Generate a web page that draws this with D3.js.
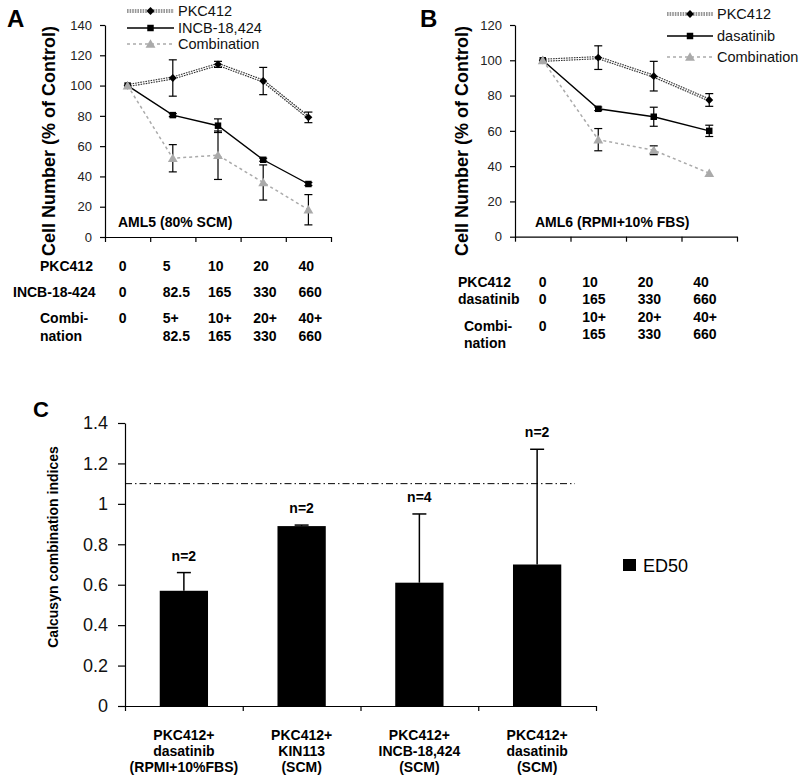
<!DOCTYPE html>
<html><head><meta charset="utf-8">
<script src="https://cdn.jsdelivr.net/npm/d3@7"></script>
<style>
body{margin:0;background:#fff;}
svg{display:block;font-family:"Liberation Sans",Arial,Helvetica,sans-serif;}
</style></head><body>
<svg id="c" width="800" height="781"></svg>
<script>
// ---------- Panel A data ----------
const catsA = ["0","5","10","20","40"];
const pkcA = [100,105,114,103,79];
const pkcAErr = [0,12,2,9,3.5];
const incbA = [100,80.5,73.5,51,35];
const incbAErr = [0,1,4.5,1,1];
const combA = [100,52,54,36,18];
const combAErr = [0,9,16,11.6,10];
const yTicksA = [0,20,40,60,80,100,120,140];
const tabA_pkc = ["0","5","10","20","40"];
const tabA_incb = ["0","82.5","165","330","660"];
const tabA_comb1 = ["0","5+","10+","20+","40+"];
const tabA_comb2 = ["","82.5","165","330","660"];
const legendA = ["PKC412","INCB-18,424","Combination"];

// ---------- Panel B data ----------
const catsB = ["0","10","20","40"];
const pkcB = [100,101.5,91,77.5];
const pkcBErr = [0,6.7,8.4,3.6];
const dasB = [100,72.5,68,60];
const dasBErr = [0,1,5.4,3.2];
const combB = [100,55,49,36];
const combBErr = [0,6.3,2.5,0];
const yTicksB = [0,20,40,60,80,100,120];
const tabB_pkc = ["0","10","20","40"];
const tabB_das = ["0","165","330","660"];
const tabB_comb1 = ["0","10+","20+","40+"];
const tabB_comb2 = ["","165","330","660"];
const legendB = ["PKC412","dasatinib","Combination"];

// ---------- Panel C data ----------
const catsC = [
  ["PKC412+","dasatinib","(RPMI+10%FBS)"],
  ["PKC412+","KIN113","(SCM)"],
  ["PKC412+","INCB-18,424","(SCM)"],
  ["PKC412+","dasatinib","(SCM)"]
];
const ed50 = [0.57,0.89,0.61,0.70];
const ed50Err = [0.09,0.005,0.34,0.57];
const nLabels = ["n=2","n=2","n=4","n=2"];
const yTicksC = [0,0.2,0.4,0.6,0.8,1,1.2,1.4];
const threshold = 1.1;

const svg = d3.select("#c");
const FONT = '"Liberation Sans",Arial,Helvetica,sans-serif';

function styleAxis(g, fs, col){
  g.selectAll("path,line").attr("stroke","#000").attr("stroke-width",1.2);
  g.selectAll("text").attr("font-size",fs).attr("fill",col).attr("font-family",FONT);
}

function linePanel(opt){
  const x = d3.scaleBand().domain(d3.range(opt.cats.length)).range(opt.xr);
  const y = d3.scaleLinear().domain(opt.ydom).range(opt.yr);
  const cx = i => x(i) + x.bandwidth()/2;
  const g = svg.append("g");
  const ya = g.append("g").attr("transform",`translate(${opt.xr[0]},0)`)
    .call(d3.axisLeft(y).tickValues(opt.yticks).tickSize(5).tickPadding(8).tickSizeOuter(0));
  styleAxis(ya, 13, "#222");
  const xb = d3.scaleLinear().domain([0,opt.cats.length]).range(opt.xr);
  const xa = g.append("g").attr("transform",`translate(0,${opt.yr[0]})`)
    .call(d3.axisBottom(xb).tickValues(d3.range(opt.cats.length+1)).tickSize(5).tickSizeOuter(0).tickFormat(""));
  styleAxis(xa, 13, "#222");

  const line = d3.line().x((d,i)=>cx(i)).y(d=>y(d));
  g.append("path").attr("d",line(opt.pkc)).attr("fill","none").attr("stroke","#333")
    .attr("stroke-width",3.2).attr("stroke-dasharray","1.6,1");
  g.append("path").attr("d",line(opt.pkc)).attr("fill","none").attr("stroke","#fff")
    .attr("stroke-width",1);
  g.append("path").attr("d",line(opt.drug)).attr("fill","none").attr("stroke","#000").attr("stroke-width",1.4);
  g.append("path").attr("d",line(opt.comb)).attr("fill","none").attr("stroke","#aaa")
    .attr("stroke-width",1.5).attr("stroke-dasharray","3,3");

  function errBars(vals, errs){
    vals.forEach((v,i)=>{
      const e = errs[i]; if(!e) return;
      const X = cx(i), y1 = y(v+e), y2 = y(v-e);
      g.append("line").attr("x1",X).attr("x2",X).attr("y1",y1).attr("y2",y2).attr("stroke","#000").attr("stroke-width",1.2);
      [y1,y2].forEach(yy=>g.append("line").attr("x1",X-4).attr("x2",X+4).attr("y1",yy).attr("y2",yy).attr("stroke","#000").attr("stroke-width",1.2));
    });
  }
  errBars(opt.pkc, opt.pkcErr);
  errBars(opt.drug, opt.drugErr);
  errBars(opt.comb, opt.combErr);

  const diamond = d3.symbol().type(d3.symbolDiamond2).size(40);
  const square = d3.symbol().type(d3.symbolSquare).size(42);
  const tri = d3.symbol().type(d3.symbolTriangle).size(42);
  opt.pkc.forEach((v,i)=>g.append("path").attr("d",diamond()).attr("transform",`translate(${cx(i)},${y(v)})`).attr("fill","#000"));
  opt.drug.forEach((v,i)=>g.append("path").attr("d",square()).attr("transform",`translate(${cx(i)},${y(v)})`).attr("fill","#000"));
  opt.comb.forEach((v,i)=>g.append("path").attr("d",tri()).attr("transform",`translate(${cx(i)},${y(v)+1})`).attr("fill","#aaa"));

  const L = opt.legend;
  opt.legendNames.forEach((name,k)=>{
    const ly = L.ys[k];
    if(k===0){
      g.append("line").attr("x1",L.x0).attr("x2",L.x1).attr("y1",ly).attr("y2",ly).attr("stroke","#333").attr("stroke-width",3.2).attr("stroke-dasharray","1.6,1");
      g.append("line").attr("x1",L.x0).attr("x2",L.x1).attr("y1",ly).attr("y2",ly).attr("stroke","#fff").attr("stroke-width",1);
      g.append("path").attr("d",diamond()).attr("transform",`translate(${(L.x0+L.x1)/2},${ly})`).attr("fill","#000");
    } else if(k===1){
      g.append("line").attr("x1",L.x0).attr("x2",L.x1).attr("y1",ly).attr("y2",ly).attr("stroke","#000").attr("stroke-width",1.4);
      g.append("path").attr("d",square()).attr("transform",`translate(${(L.x0+L.x1)/2},${ly})`).attr("fill","#000");
    } else {
      g.append("line").attr("x1",L.x0).attr("x2",L.x1).attr("y1",ly).attr("y2",ly).attr("stroke","#aaa").attr("stroke-width",1.5).attr("stroke-dasharray","3,3");
      g.append("path").attr("d",tri()).attr("transform",`translate(${(L.x0+L.x1)/2},${ly+1})`).attr("fill","#aaa");
    }
    g.append("text").attr("x",L.x1+4).attr("y",ly).attr("dy","0.36em").attr("font-size",14.5).attr("fill","#111").text(name);
  });

  g.append("text").attr("transform",`translate(${opt.ylabX},${opt.ylabY}) rotate(-90)`)
    .attr("text-anchor","middle").attr("font-size",18).attr("font-weight","bold").text("Cell Number (% of Control)");
  g.append("text").attr("x",opt.letterX).attr("y",27).attr("font-size",24).attr("font-weight","bold").text(opt.letter);
  g.append("text").attr("x",opt.noteX).attr("y",227).attr("font-size",14).attr("font-weight","bold").text(opt.note);

  const T = opt.table;
  const tg = g.append("g").attr("font-size",14).attr("font-weight","bold").attr("fill","#000");
  T.rows.forEach(r=>{
    tg.append("text").attr("x",r.lx).attr("y",r.ly||r.y).text(r.label);
    if(r.label2) tg.append("text").attr("x",r.lx).attr("y",r.ly2||r.y2).text(r.label2);
    r.vals.forEach((v,i)=>{
      if(i===0){
        tg.append("text").attr("x",cx(i)+T.zeroOff).attr("y",r.zeroY||r.y).attr("text-anchor","middle").text(v);
      } else {
        tg.append("text").attr("x",cx(i)+T.off).attr("y",r.y).text(v);
        if(r.vals2) tg.append("text").attr("x",cx(i)+T.off).attr("y",r.y2).text(r.vals2[i]);
      }
    });
  });
}

linePanel({
  cats:catsA, xr:[105,331], ydom:[0,140], yr:[237,25], yticks:yTicksA,
  pkc:pkcA, pkcErr:pkcAErr, drug:incbA, drugErr:incbAErr, comb:combA, combErr:combAErr,
  legendNames:legendA, legend:{x0:127,x1:174,ys:[11,28,44]},
  ylabX:55, ylabY:141, letter:"A", letterX:7, note:"AML5 (80% SCM)", noteX:118,
  table:{off:-10, zeroOff:-5, rows:[
    {label:"PKC412", lx:40, y:271, vals:tabA_pkc},
    {label:"INCB-18-424", lx:13, y:297, vals:tabA_incb},
    {label:"Combi-", label2:"nation", lx:40, y:323, y2:341, vals:tabA_comb1, vals2:tabA_comb2}
  ]}
});

linePanel({
  cats:catsB, xr:[515,737], ydom:[0,120], yr:[236.7,25], yticks:yTicksB,
  pkc:pkcB, pkcErr:pkcBErr, drug:dasB, drugErr:dasBErr, comb:combB, combErr:combBErr,
  legendNames:legendB, legend:{x0:667,x1:713,ys:[14,36,57]},
  ylabX:468, ylabY:141, letter:"B", letterX:420, note:"AML6 (RPMI+10% FBS)", noteX:535,
  table:{off:-16, zeroOff:0, rows:[
    {label:"PKC412", lx:458, y:287, vals:tabB_pkc},
    {label:"dasatinib", lx:458, y:304, vals:tabB_das},
    {label:"Combi-", label2:"nation", lx:464, y:322, y2:339, ly:331, ly2:348, zeroY:331, vals:tabB_comb1, vals2:tabB_comb2}
  ]}
});

// ---------- Panel C ----------
(function(){
  const x = d3.scaleBand().domain(d3.range(catsC.length)).range([125,596]).paddingInner(0.59).paddingOuter(0.295);
  const y = d3.scaleLinear().domain([0,1.4]).range([706,423]);
  const g = svg.append("g");
  const ya = g.append("g").attr("transform","translate(125,0)")
    .call(d3.axisLeft(y).tickValues(yTicksC).tickSize(7).tickPadding(10).tickSizeOuter(0).tickFormat(d=>String(+d.toFixed(1))));
  styleAxis(ya, 18, "#111");
  const xb = d3.scaleLinear().domain([0,catsC.length]).range([125,596]);
  const xa = g.append("g").attr("transform","translate(0,706)")
    .call(d3.axisBottom(xb).tickValues(d3.range(catsC.length+1)).tickSize(5).tickSizeOuter(0).tickFormat(""));
  styleAxis(xa, 13, "#111");

  g.append("line").attr("x1",125).attr("x2",575).attr("y1",y(threshold)).attr("y2",y(threshold))
    .attr("stroke","#000").attr("stroke-width",1).attr("stroke-dasharray","7,3,1.5,3");

  ed50.forEach((v,i)=>{
    const X = x(i), w = x.bandwidth(), c = X + w/2;
    g.append("rect").attr("x",X).attr("y",y(v)).attr("width",w).attr("height",y(0)-y(v)).attr("fill","#000");
    const top = y(v+ed50Err[i]);
    g.append("line").attr("x1",c).attr("x2",c).attr("y1",y(v)).attr("y2",top).attr("stroke","#000").attr("stroke-width",1.5);
    g.append("line").attr("x1",c-7).attr("x2",c+7).attr("y1",top).attr("y2",top).attr("stroke","#000").attr("stroke-width",1.5);
    g.append("text").attr("x",c).attr("y",top-12).attr("text-anchor","middle").attr("font-size",14).attr("font-weight","bold").text(nLabels[i]);
    catsC[i].forEach((t,k)=>{
      g.append("text").attr("x",c).attr("y",740+k*16).attr("text-anchor","middle").attr("font-size",14).attr("font-weight","bold").text(t);
    });
  });

  g.append("text").attr("transform","translate(58,547) rotate(-90)").attr("text-anchor","middle")
    .attr("font-size",14).attr("font-weight","bold").text("Calcusyn combination indices");
  g.append("text").attr("x",33).attr("y",417).attr("font-size",22).attr("font-weight","bold").text("C");

  g.append("rect").attr("x",623).attr("y",559).attr("width",13).attr("height",12).attr("fill","#000");
  g.append("text").attr("x",643).attr("y",572).attr("font-size",18).text("ED50");
})();
</script>
</body></html>
